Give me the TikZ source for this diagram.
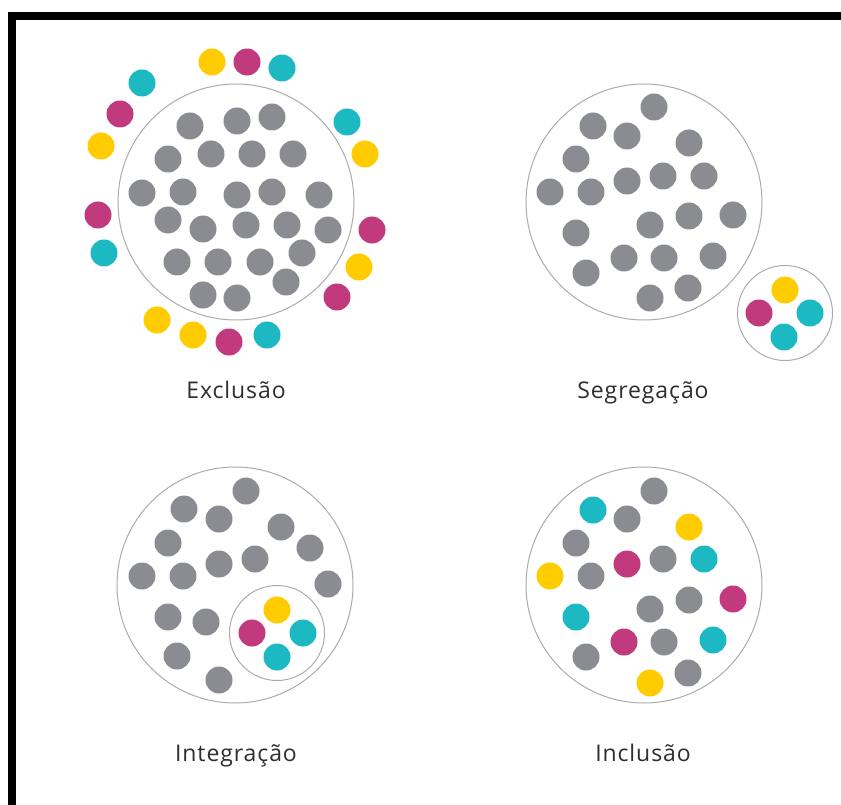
\documentclass[tikz,border=0pt]{standalone}
\usepackage{fontspec}
\setmainfont{Open Sans}[LetterSpace=4]
\definecolor{dgray}{HTML}{8B8B92}
\definecolor{dyel}{HTML}{FFCC00}
\definecolor{dmag}{HTML}{C23A7E}
\definecolor{dcya}{HTML}{1DB9C3}
\definecolor{ring}{HTML}{ABABAB}
\definecolor{txt}{HTML}{2E2E2E}
\tikzset{
  dotbase/.style={circle, inner sep=0pt, minimum size=27pt, draw=none},
  gdot/.style={dotbase, fill=dgray},
  ydot/.style={dotbase, fill=dyel},
  mdot/.style={dotbase, fill=dmag},
  cdot/.style={dotbase, fill=dcya},
  bigring/.style={circle, draw=ring, line width=1pt, inner sep=0pt, minimum size=236pt},
  smallring/.style={circle, draw=ring, line width=1pt, inner sep=0pt, minimum size=95pt},
  lbl/.style={font=\fontsize{23}{27}\selectfont, text=txt, anchor=base, inner sep=0pt},
  frame/.style={fill=black, draw=none}
}
\begin{document}
\begin{tikzpicture}[x=1pt, y=-1pt]
\useasboundingbox (0,0) rectangle (841,805);
\fill[white] (0,0) rectangle (841,805);
% frame bars
\fill[frame] (8,12) rectangle (841,20);
\fill[frame] (8,12) rectangle (16,805);

% ---------- Exclusao ----------
\node[bigring] (exring) at (236,202) {};
\foreach \x/\y [count=\i] in {190/126,237/121,272/117,
  168/159,211/154,252/154,293/154,
  142/193,183/192,237/195,272/192,319/195,
  168/220,203/229,246/225,287/225,328/230,
  177/262,218/262,260/262,302/253,
  203/295,237/298,286/282}
  \node[gdot] (exg\i) at (\x,\y) {};
\foreach \x/\y [count=\i] in {212/62,101/146,365/154,359/267,157/320,193/335}
  \node[ydot] (exy\i) at (\x,\y) {};
\foreach \x/\y [count=\i] in {247/62,120/114,98/215,372/230,337/297,229/342}
  \node[mdot] (exm\i) at (\x,\y) {};
\foreach \x/\y [count=\i] in {282/68,142/83,347/122,104/253,267/335}
  \node[cdot] (exc\i) at (\x,\y) {};
\node[lbl] (exlbl) at (236,398) {Exclusão};

% ---------- Segregacao ----------
\node[bigring] (sgring) at (644,202) {};
\foreach \x/\y [count=\i] in {654/107,
  593/126,627/136,689/143,
  576/159,
  550/192,591/192,627/181,663/176,704/176,
  733/215,689/216,650/225,
  576/233,
  586/273,624/258,664/258,713/256,
  650/298,688/288}
  \node[gdot] (sgg\i) at (\x,\y) {};
\node[smallring] (sgsmall) at (785,313) {};
\node[ydot] (sgy) at (785,290) {};
\node[mdot] (sgm) at (759,313) {};
\node[cdot] (sgc1) at (810,313) {};
\node[cdot] (sgc2) at (784,337) {};
\node[lbl] (sglbl) at (643,398) {Segregação};

% ---------- Integracao ----------
\node[bigring] (inring) at (235,585) {};
\foreach \x/\y [count=\i] in {246/491,
  184/509,219/519,281/527,
  168/543,310/548,
  142/576,183/576,219/564,255/559,
  328/584,
  168/617,206/622,
  177/656,219/680}
  \node[gdot] (ing\i) at (\x,\y) {};
\node[smallring] (insmall) at (277,633) {};
\node[ydot] (iny) at (277,610) {};
\node[mdot] (inm) at (252,633) {};
\node[cdot] (inc1) at (303,633) {};
\node[cdot] (inc2) at (277,657) {};
\node[lbl] (inlbl) at (236,761) {Integração};

% ---------- Inclusao ----------
\node[bigring] (icring) at (644,585) {};
\foreach \x/\y [count=\i] in {654/491,627/519,576/543,591/576,663/559,
  689/600,650/609,586/657,664/642,688/673}
  \node[gdot] (icg\i) at (\x,\y) {};
\foreach \x/\y [count=\i] in {689/527,550/576,650/683}
  \node[ydot] (icy\i) at (\x,\y) {};
\foreach \x/\y [count=\i] in {627/564,733/599,624/642}
  \node[mdot] (icm\i) at (\x,\y) {};
\foreach \x/\y [count=\i] in {593/510,704/559,576/617,713/640}
  \node[cdot] (icc\i) at (\x,\y) {};
\node[lbl] (iclbl) at (643,761) {Inclusão};
\end{tikzpicture}
\end{document}
